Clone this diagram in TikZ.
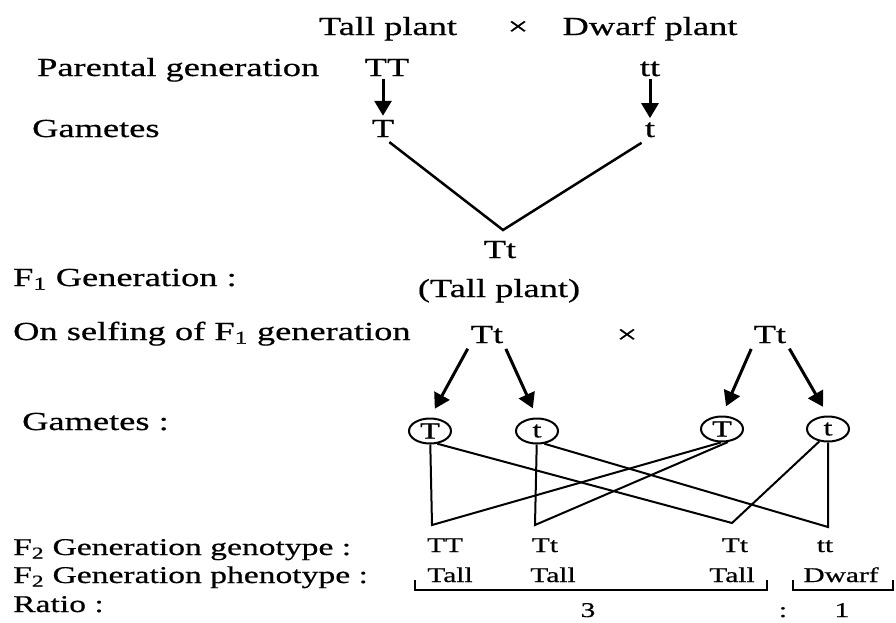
\documentclass[tikz,border=0pt]{standalone}
\usepackage{fontspec}
\setmainfont{Liberation Serif}[FakeStretch=1.4,FakeBold=0.6]
\usetikzlibrary{arrows.meta,shapes.geometric}

\begin{document}
\begin{tikzpicture}[x=1pt,y=-1pt,>={Triangle[width=17pt,length=15pt]},
  lbl/.style={anchor=base west,inner sep=0pt,font=\fontsize{26}{30}\selectfont},
  gene/.style={anchor=base,inner sep=0pt,font=\fontsize{26}{30}\selectfont},
  small/.style={anchor=base west,inner sep=0pt,font=\fontsize{24}{28}\selectfont},
  tiny/.style={anchor=base,inner sep=0pt,font=\fontsize{21}{25}\selectfont},
  gam/.style={draw,ellipse,line width=2pt,minimum width=42pt,minimum height=25pt,
    inner sep=0pt,font=\fontsize{23}{25}\selectfont},
  arr/.style={->,line width=3pt},
  vline/.style={line width=2.5pt},
  link/.style={line width=2pt}]
  \useasboundingbox (0,0) rectangle (896,622);

  % parents
  \node[gene] (tall) at (388,35) {Tall plant};
  \node[gene] (cross1) at (518,35) {×};
  \node[gene] (dwarf) at (650,35) {Dwarf plant};
  \node[lbl] (par) at (37,76) {Parental generation};
  \node[gene] (TT) at (387,76) {TT};
  \node[gene] (tt) at (650,76) {tt};
  \node[lbl] (gam1) at (32,137) {Gametes};
  \node[gene] (gT) at (383,137) {T};
  \node[gene] (gt) at (650,137) {t};
  \draw[arr,shorten <=3pt,shorten >=4pt] (gT |- TT.south) -- (gT.north);
  \draw[arr,shorten <=3pt,shorten >=4pt] (gt |- tt.south) -- (gt.north);

  % F1
  \coordinate (join) at (503,230);
  \draw[vline,shorten <=8pt,shorten >=10pt] (gT.south) -- (join) -- (gt.south);
  \node[gene] (f1) at (500,258) {Tt};
  \node[lbl] (f1lbl) at (13,286) {F\textsubscript{1} Generation :};
  \node[gene] (f1ph) at (499,297) {(Tall plant)};

  % selfing
  \node[lbl] (self) at (13,340) {On selfing of F\textsubscript{1} generation};
  \node[gene] (p1) at (487,343) {Tt};
  \node[gene] (cross2) at (627,343) {×};
  \node[gene] (p2) at (770,343) {Tt};

  \node[lbl] (gam2) at (22,430) {Gametes :};
  \node[gam] (a1) at (430,431) {T};
  \node[gam] (a2) at (537,431) {t};
  \node[gam] (a3) at (722,429) {T};
  \node[gam] (a4) at (828,429) {t};
  \draw[arr,shorten <=6pt,shorten >=10pt] (p1.south west) -- (a1.north);
  \draw[arr,shorten <=6pt,shorten >=10pt] (p1.south east) -- (a2.north);
  \draw[arr,shorten <=6pt,shorten >=10pt] (p2.south west) -- (a3.north);
  \draw[arr,shorten <=6pt,shorten >=10pt] (p2.south east) -- (a4.north);

  % F2 combinations
  \coordinate (g1) at (432,525);
  \coordinate (g2) at (535,525);
  \coordinate (g3) at (732,523);
  \coordinate (g4) at (828,527);
  \draw[link] (a1) -- (g1) -- (a3.-95);
  \draw[link] (a2) -- (g2) -- (a3.-65);
  \draw[link] (a1.-60) -- (g3) -- (a4.-125);
  \draw[link] (a2.-60) -- (g4) -- (a4);

  \node[small] (geno) at (13,555) {F\textsubscript{2} Generation genotype :};
  \node[small] (pheno) at (13,583) {F\textsubscript{2} Generation phenotype :};
  \node[small] (ratio) at (13,612) {Ratio :};

  \node[tiny] (c1) at (445,552) {TT};
  \node[tiny] (c2) at (545,552) {Tt};
  \node[tiny] (c3) at (735,552) {Tt};
  \node[tiny] (c4) at (825,552) {tt};

  \node[tiny] (ph1) at (450,582) {Tall};
  \node[tiny] (ph2) at (553,582) {Tall};
  \node[tiny] (ph3) at (732,582) {Tall};
  \node[tiny] (ph4) at (841,582) {Dwarf};
  \draw[link] (415,580) |- (767,590) -- (767,580);
  \draw[link] (793,580) |- (893,590) -- (893,580);

  \node[tiny] (r3) at (588,617) {3};
  \node[tiny] (rc) at (783,617) {:};
  \node[tiny] (r1) at (842,617) {1};
\end{tikzpicture}
\end{document}
